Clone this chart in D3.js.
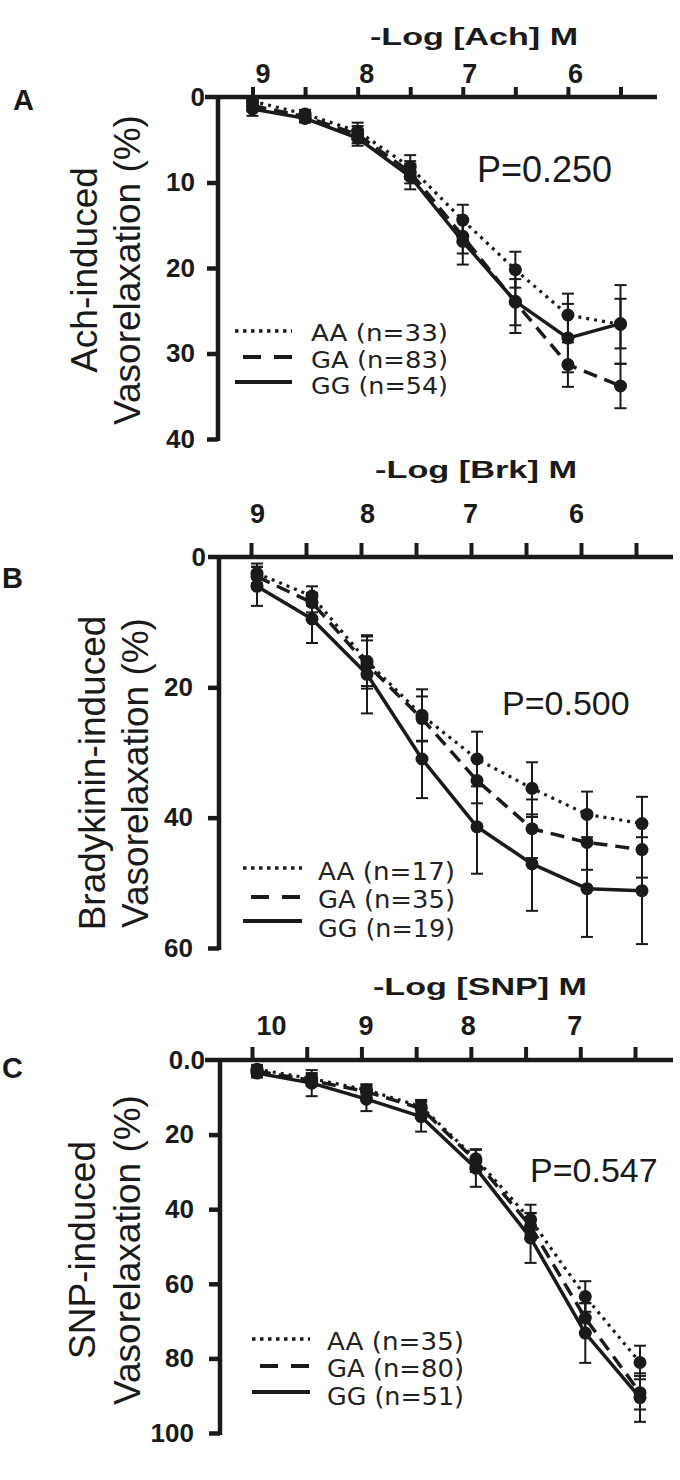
<!DOCTYPE html>
<html>
<head>
<meta charset="utf-8">
<script src="https://cdn.jsdelivr.net/npm/d3@7"></script>
<style>
  html, body { margin: 0; padding: 0; background: #ffffff; }
  svg { display: block; }
</style>
</head>
<body>
<script>
// ---------------- DATA ----------------
// Panel A: Acetylcholine
const achDoses = [9, 8.5, 8, 7.5, 7, 6.5, 6, 5.5];
const achTicks = [9, 8.5, 8, 7.5, 7, 6.5, 6, 5.5];
const achAA    = [0.5, 2.0, 4.0, 8.2, 14.4, 20.2, 25.5, 26.6];
const achAAerr = [0.6, 0.5, 1.0, 1.4, 1.8, 2.1, 2.5, 4.6];
const achGA    = [1.0, 2.3, 4.4, 8.8, 16.3, 24.0, 31.3, 33.8];
const achGAerr = [0.7, 0.6, 1.0, 1.3, 2.0, 2.7, 2.6, 2.6];
const achGG    = [1.4, 2.5, 4.8, 9.3, 16.9, 23.9, 28.2, 26.5];
const achGGerr = [0.8, 0.5, 0.9, 1.5, 2.7, 3.7, 4.0, 2.9];
const achN     = [33, 83, 54];

// Panel B: Bradykinin
const brkDoses = [9, 8.5, 8, 7.5, 7, 6.5, 6, 5.5];
const brkTicks = [9, 8.5, 8, 7.5, 7, 6.5, 6, 5.5];
const brkAA    = [2.5, 6.0, 16.0, 24.3, 31.0, 35.5, 39.5, 40.9];
const brkAAerr = [1.5, 1.5, 3.8, 4.0, 4.2, 4.0, 3.5, 4.1];
const brkGA    = [3.0, 7.0, 16.5, 24.8, 34.3, 41.7, 43.8, 44.9];
const brkGAerr = [1.5, 1.5, 3.7, 3.4, 3.5, 4.5, 4.2, 4.3];
const brkGG    = [4.5, 9.5, 18.0, 31.0, 41.4, 47.1, 50.9, 51.2];
const brkGGerr = [3.0, 3.7, 6.0, 6.0, 7.2, 7.2, 7.4, 8.2];
const brkN     = [17, 35, 19];

// Panel C: Sodium nitroprusside
const snpDoses = [10, 9.5, 9, 8.5, 8, 7.5, 7, 6.5];
const snpTicks = [10, 9.5, 9, 8.5, 8, 7.5, 7, 6.5];
const snpAA    = [2.5, 5.0, 8.0, 12.5, 26.5, 42.8, 63.4, 81.1];
const snpAAerr = [1.2, 1.5, 1.5, 1.8, 2.5, 4.0, 4.1, 4.5];
const snpGA    = [3.0, 5.5, 8.5, 13.0, 27.0, 44.6, 69.2, 89.2];
const snpGAerr = [1.2, 1.5, 1.8, 2.0, 3.0, 3.5, 4.0, 4.5];
const snpGG    = [3.5, 6.2, 10.5, 15.2, 29.0, 47.7, 73.2, 90.5];
const snpGGerr = [1.2, 3.5, 3.2, 4.0, 5.0, 6.7, 8.0, 6.5];
const snpN     = [35, 80, 51];

const genotypes = ["AA", "GA", "GG"];
const pValues = ["P=0.250", "P=0.500", "P=0.547"];
const xTitles = ["-Log [Ach] M", "-Log [Brk] M", "-Log [SNP] M"];
const yTitles1 = ["Ach-induced", "Bradykinin-induced", "SNP-induced"];
const yTitle2 = "Vasorelaxation (%)";
const panelLetters = ["A", "B", "C"];
const yTicksA = [0, 10, 20, 30, 40];
const yTicksB = [0, 20, 40, 60];
const yTicksC = [0, 20, 40, 60, 80, 100];

// ---------------- LAYOUT / STYLE ----------------
const INK = "#1a1a1a";
const SANS = "'Liberation Sans', Arial, Helvetica, sans-serif";
const LEG = "'DejaVu Sans', Verdana, sans-serif";
const lineStyles = [
  { dash: "3,5",  width: 3.2 },
  { dash: "14,8", width: 3.5 },
  { dash: null,   width: 3.5 }
];

const panels = [
  {
    doses: achDoses, ticks: achTicks, yTicks: yTicksA, yMax: 40,
    series: [[achAA, achAAerr], [achGA, achGAerr], [achGG, achGGerr]], n: achN,
    xDomain: [9, 5.5], xRange: [252.5, 620.5], tickShift: 0,
    yRange: [97, 439], axisX: 218, xAxisStart: 205, xAxisEnd: 657,
    xTickLen: 10, xTickPad: 4, xLabelDx: {9: 10, 8: 8.5, 7: 6.5, 6: 7},
    yTickPad: 12, zeroDx: 10, zeroFmt: d => d,
    title: { x: 474, y: 45, len: 208 },
    letter: { x: 13, y: 110 },
    ylab: { cy: 270, b1: 97, b2: 140 },
    p: { x: 477, y: 182, size: 36 },
    leg: { x1: 235, x2: 292, tx: 311, ys: [331, 357, 382], tys: [341, 367.5, 394], fs: 23.5 }
  },
  {
    doses: brkDoses, ticks: brkTicks, yTicks: yTicksB, yMax: 60,
    series: [[brkAA, brkAAerr], [brkGA, brkGAerr], [brkGG, brkGGerr]], n: brkN,
    xDomain: [9, 5.5], xRange: [257, 642], tickShift: -6,
    yRange: [557, 948], axisX: 219, xAxisStart: 208, xAxisEnd: 673,
    xTickLen: 14, xTickPad: 20, xLabelDx: {9: 6, 8: 6, 7: -1, 6: -5},
    yTickPad: 15, zeroDx: 13, zeroFmt: d => d,
    title: { x: 476, y: 478, len: 202 },
    letter: { x: 2, y: 588 },
    ylab: { cy: 773, b1: 105, b2: 148 },
    p: { x: 502, y: 715, size: 34 },
    leg: { x1: 243, x2: 302, tx: 318, ys: [868, 897, 921], tys: [880, 908, 937], fs: 24.5 }
  },
  {
    doses: snpDoses, ticks: snpTicks, yTicks: yTicksC, yMax: 100,
    series: [[snpAA, snpAAerr], [snpGA, snpGAerr], [snpGG, snpGGerr]], n: snpN,
    xDomain: [10, 6.5], xRange: [257, 640], tickShift: -5,
    yRange: [1060, 1433], axisX: 220, xAxisStart: 205, xAxisEnd: 673,
    xTickLen: 13, xTickPad: 12, xLabelDx: {10: 19, 9: 4, 8: -3, 7: -6},
    yTickPad: 15, zeroDx: 11, zeroFmt: d => d3.format(".1f")(d),
    title: { x: 480, y: 995, len: 214 },
    letter: { x: 2, y: 1078 },
    ylab: { cy: 1250, b1: 95, b2: 140 },
    p: { x: 530, y: 1182, size: 34 },
    leg: { x1: 252, x2: 310, tx: 327, ys: [1339, 1366, 1392], tys: [1350, 1377, 1405], fs: 24.5 }
  }
];

const svg = d3.select("body").append("svg")
  .attr("width", 680).attr("height", 1480)
  .style("background", "#fff");

panels.forEach((cfg, pi) => {
  const x = d3.scaleLinear().domain(cfg.xDomain).range(cfg.xRange);
  const y = d3.scaleLinear().domain([0, cfg.yMax]).range(cfg.yRange);
  const g = svg.append("g");

  // axis lines
  g.append("line")
    .attr("x1", cfg.xAxisStart).attr("x2", cfg.xAxisEnd)
    .attr("y1", y(0)).attr("y2", y(0))
    .attr("stroke", INK).attr("stroke-width", 4.5);
  g.append("line")
    .attr("x1", cfg.axisX).attr("x2", cfg.axisX)
    .attr("y1", y(0) - 2).attr("y2", y(cfg.yMax) + 2)
    .attr("stroke", INK).attr("stroke-width", 4.5);

  // top x axis
  const xa = g.append("g")
    .attr("transform", `translate(${cfg.tickShift},${y(0)})`)
    .call(d3.axisTop(x).tickValues(cfg.ticks)
      .tickSize(cfg.xTickLen).tickSizeOuter(0).tickPadding(cfg.xTickPad)
      .tickFormat(d => Number.isInteger(d) ? d : ""));
  xa.select(".domain").remove();
  xa.selectAll(".tick line").attr("stroke", INK).attr("stroke-width", 4);
  xa.selectAll(".tick text")
    .attr("fill", INK).attr("font-family", SANS).attr("font-weight", "bold")
    .attr("font-size", 27).attr("dx", d => cfg.xLabelDx[d] || 0);

  // left y axis
  const ya = g.append("g")
    .attr("transform", `translate(${cfg.axisX},0)`)
    .call(d3.axisLeft(y).tickValues(cfg.yTicks).tickSize(11)
      .tickPadding(cfg.yTickPad).tickSizeOuter(0)
      .tickFormat(d => d === 0 ? cfg.zeroFmt(d) : d));
  ya.select(".domain").remove();
  ya.selectAll(".tick line").attr("stroke", INK).attr("stroke-width", 4.5)
    .attr("opacity", d => d === 0 ? 0 : 1);
  ya.selectAll(".tick text")
    .attr("fill", INK).attr("font-family", SANS).attr("font-weight", "bold")
    .attr("font-size", 26)
    .attr("dx", d => d === 0 ? cfg.zeroDx : 0);

  // x title
  g.append("text")
    .attr("x", cfg.title.x).attr("y", cfg.title.y)
    .attr("text-anchor", "middle")
    .attr("font-family", SANS).attr("font-weight", "bold").attr("font-size", 24)
    .attr("textLength", cfg.title.len).attr("lengthAdjust", "spacingAndGlyphs")
    .attr("fill", INK)
    .text(xTitles[pi]);

  // panel letter
  g.append("text")
    .attr("x", cfg.letter.x).attr("y", cfg.letter.y)
    .attr("font-family", SANS).attr("font-weight", "bold").attr("font-size", 29)
    .attr("fill", INK).text(panelLetters[pi]);

  // y title (two lines, rotated)
  [[yTitles1[pi], cfg.ylab.b1], [yTitle2, cfg.ylab.b2]].forEach(([t, bx]) => {
    g.append("text")
      .attr("transform", `translate(${bx},${cfg.ylab.cy}) rotate(-90)`)
      .attr("text-anchor", "middle")
      .attr("font-family", SANS).attr("font-size", 37)
      .attr("fill", INK).text(t);
  });

  // P value
  g.append("text")
    .attr("x", cfg.p.x).attr("y", cfg.p.y)
    .attr("font-family", SANS).attr("font-size", cfg.p.size)
    .attr("fill", INK).text(pValues[pi]);

  // series lines
  const line = d3.line().x((d, i) => x(cfg.doses[i])).y(d => y(d));
  cfg.series.forEach(([vals], si) => {
    g.append("path")
      .attr("d", line(vals))
      .attr("fill", "none").attr("stroke", INK)
      .attr("stroke-width", lineStyles[si].width)
      .attr("stroke-dasharray", lineStyles[si].dash)
      .attr("stroke-linejoin", "round");
  });

  // error bars
  cfg.series.forEach(([vals, errs]) => {
    const eg = g.append("g").attr("stroke", INK).attr("stroke-width", 2);
    vals.forEach((v, i) => {
      const cx = x(cfg.doses[i]);
      const yt = y(v - errs[i]), yb = y(v + errs[i]);
      eg.append("line").attr("x1", cx).attr("x2", cx).attr("y1", yt).attr("y2", yb);
      eg.append("line").attr("x1", cx - 6).attr("x2", cx + 6).attr("y1", yt).attr("y2", yt);
      eg.append("line").attr("x1", cx - 6).attr("x2", cx + 6).attr("y1", yb).attr("y2", yb);
    });
  });

  // markers
  cfg.series.forEach(([vals]) => {
    g.append("g").selectAll("circle").data(vals).join("circle")
      .attr("cx", (d, i) => x(cfg.doses[i]))
      .attr("cy", d => y(d))
      .attr("r", 6.5).attr("fill", INK);
  });

  // legend
  genotypes.forEach((gt, si) => {
    const ly = cfg.leg.ys[si];
    g.append("line")
      .attr("x1", si === 1 ? cfg.leg.x1 + 8 : cfg.leg.x1).attr("x2", cfg.leg.x2)
      .attr("y1", ly).attr("y2", ly)
      .attr("stroke", INK)
      .attr("stroke-width", si === 0 ? 3.5 : 4)
      .attr("stroke-dasharray", si === 0 ? "3.5,4.5" : (si === 1 ? "18,13" : null));
    g.append("text")
      .attr("x", cfg.leg.tx).attr("y", cfg.leg.tys[si])
      .attr("font-family", LEG).attr("font-size", cfg.leg.fs)
      .attr("textLength", 137).attr("lengthAdjust", "spacingAndGlyphs")
      .attr("fill", "#222")
      .text(`${gt} (n=${cfg.n[si]})`);
  });
});
</script>
</body>
</html>
